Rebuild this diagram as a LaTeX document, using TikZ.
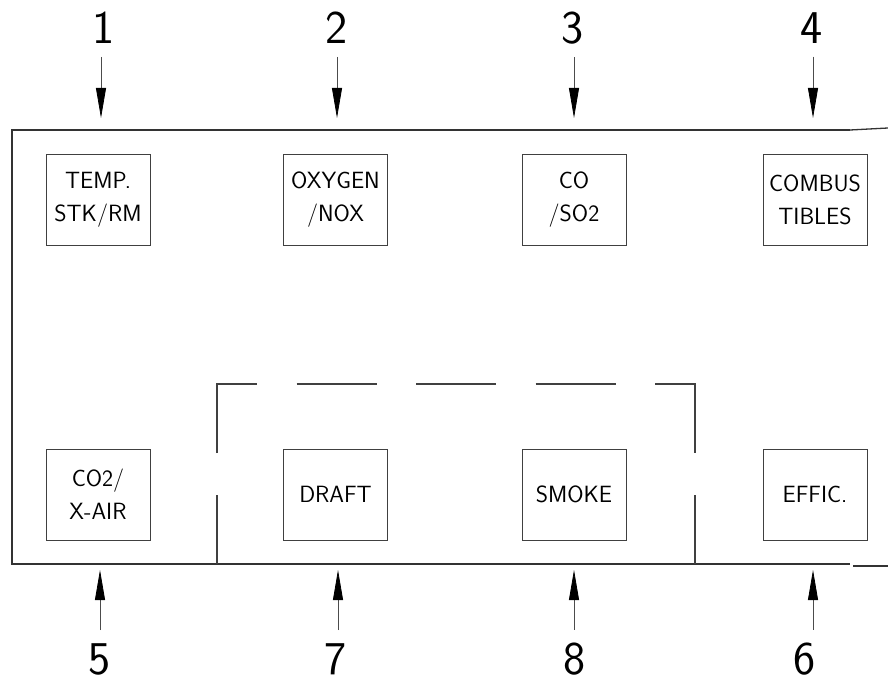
\documentclass[tikz,border=0pt]{standalone}
\usepackage{fontspec}
\usetikzlibrary{arrows.meta}

\begin{document}
\begin{tikzpicture}[
    x=1pt, y=-1pt,
    every node/.style={font=\sffamily},
    % the eight read-out windows
    panel/.style={draw=black!75, line width=0.9pt, minimum width=104pt, minimum height=91pt,
                  inner sep=0pt, align=center, font=\sffamily\fontsize{23.5}{33}\selectfont},
    % numbered call-outs
    num/.style={inner sep=0pt, font=\sffamily\fontsize{47}{47}\selectfont},
    frame/.style={draw=black!80, line width=1.3pt},
    dashbox/.style={draw=black!75, line width=1.1pt,
                    dash pattern=on 69pt off 42pt on 109pt off 39.5pt on 80pt off 39.5pt on 80pt
                                 off 39.5pt on 80pt off 39.5pt on 109pt off 42pt on 69pt off 400pt},
    arrow/.style={-{Triangle[length=30pt, width=10pt, color=black]}, line width=0.8pt,
                  draw=black!70, shorten <=13pt}
]
\fill[white] (0,0) rectangle (888,684);
\useasboundingbox (0,0) rectangle (888,684);

% housing
\draw[frame] (850,130) -- (12,130) -- (12,564) -- (850,564);
\draw[frame] (850,130) -- (888,128);
\draw[frame] (853,566) -- (888,566);

% group around draft and smoke
\draw[dashbox] (217,564) -- (217,384) -- (695,384) -- (695,564);

\node[panel] (temp)   at (98,200)    {TEMP.\\STK/RM};
\node[panel] (oxygen) at (335.5,200) {OXYGEN\\/NOX};
\node[panel] (co)     at (574,200)   {CO\\/SO2};
\node[panel] (combus) at (815,200)   {COMBUS\\TIBLES};

\node[panel] (cotwo) at (98,494.5)    {CO2/\\X-AIR};
\node[panel] (draft) at (335.5,494.5) {DRAFT};
\node[panel] (smoke) at (574,494.5)   {SMOKE};
\node[panel] (effic) at (815,494.5)   {EFFIC.};

\node[num] (n1) at (104,28)  {1};
\node[num] (n2) at (337,28)  {2};
\node[num] (n3) at (573,28)  {3};
\node[num] (n4) at (812,28)  {4};
\node[num] (n5) at (100,659) {5};
\node[num] (n7) at (336,659) {7};
\node[num] (n8) at (575,659) {8};
\node[num] (n6) at (805,659) {6};

\coordinate (t1) at (101,118);
\coordinate (t2) at (337,118);
\coordinate (t3) at (574,118);
\coordinate (t4) at (813,118);
\coordinate (t5) at (100,570);
\coordinate (t7) at (338,570);
\coordinate (t8) at (574,570);
\coordinate (t6) at (813,570);

\draw[arrow] (n1.south -| t1) -- (t1);
\draw[arrow] (n2.south -| t2) -- (t2);
\draw[arrow] (n3.south -| t3) -- (t3);
\draw[arrow] (n4.south -| t4) -- (t4);
\draw[arrow] (n5.north -| t5) -- (t5);
\draw[arrow] (n7.north -| t7) -- (t7);
\draw[arrow] (n8.north -| t8) -- (t8);
\draw[arrow] (n6.north -| t6) -- (t6);

\end{tikzpicture}
\end{document}
